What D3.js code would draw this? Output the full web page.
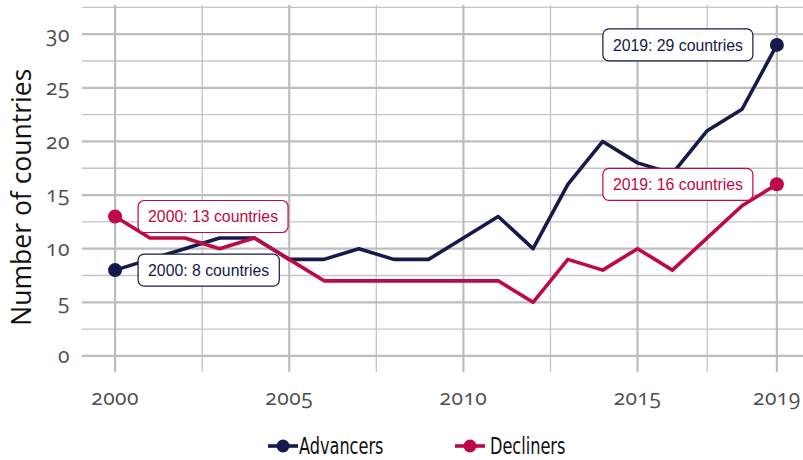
<!DOCTYPE html>
<html>
<head>
<meta charset="utf-8">
<script src="https://cdn.jsdelivr.net/npm/d3@7"></script>
<style>
  body { margin: 0; background: #fff; }
  svg { display: block; }
  .tick-lbl { font-family: "Open Sans", "Lato", sans-serif; font-size: 21px; fill: #4d4d4d; font-variant-numeric: oldstyle-nums; letter-spacing: 0.5px; }
  .ytitle { font-family: "Open Sans", "Lato", sans-serif; font-size: 26.5px; fill: #111; }
  .lbl { font-family: "Liberation Sans", Arial, sans-serif; font-size: 15.8px; }
  .legend { font-family: "DejaVu Sans Condensed", "Liberation Sans Narrow", sans-serif; font-size: 23px; fill: #111; }
</style>
</head>
<body>
<svg id="chart" width="803" height="460"></svg>
<script>
// data
var years = [2000, 2001, 2002, 2003, 2004, 2005, 2006, 2007, 2008, 2009,
             2010, 2011, 2012, 2013, 2014, 2015, 2016, 2017, 2018, 2019];
var advancers = [8, 9, 10, 11, 11, 9, 9, 10, 9, 9, 11, 13, 10, 16, 20, 18, 17, 21, 23, 29];
var decliners = [13, 11, 11, 10, 11, 9, 7, 7, 7, 7, 7, 7, 5, 9, 8, 10, 8, 11, 14, 16];
var seriesNames = ["Advancers", "Decliners"];
var seriesColors = ["#151a4b", "#bd0a45"];
var xBreaks = [2000, 2005, 2010, 2015, 2019];
var xMinor = [2002.5, 2007.5, 2012.5, 2017];
var yBreaks = [0, 5, 10, 15, 20, 25, 30];
var yMinor = [2.5, 7.5, 12.5, 17.5, 22.5, 27.5, 32.5];

var svg = d3.select("#chart");
var panel = {left: 82, right: 803, top: 5, bottom: 372};

var x = d3.scaleLinear().domain([1999.05, 2019.75]).range([panel.left, panel.right]);
var y = d3.scaleLinear().domain([-1.5, 32.72]).range([panel.bottom, panel.top]);

var grid = svg.append("g");
grid.selectAll(".hmin").data(yMinor).enter().append("line")
    .attr("x1", panel.left).attr("x2", panel.right)
    .attr("y1", d => y(d)).attr("y2", d => y(d))
    .attr("stroke", "#c4c4c4").attr("stroke-width", 1.3);
grid.selectAll(".vmin").data(xMinor).enter().append("line")
    .attr("x1", d => x(d)).attr("x2", d => x(d))
    .attr("y1", panel.top).attr("y2", panel.bottom)
    .attr("stroke", "#c4c4c4").attr("stroke-width", 1.3);
grid.selectAll(".hmaj").data(yBreaks).enter().append("line")
    .attr("x1", panel.left).attr("x2", panel.right)
    .attr("y1", d => y(d)).attr("y2", d => y(d))
    .attr("stroke", "#bdbdbd").attr("stroke-width", 2.2);
grid.selectAll(".vmaj").data(xBreaks).enter().append("line")
    .attr("x1", d => x(d)).attr("x2", d => x(d))
    .attr("y1", panel.top).attr("y2", panel.bottom)
    .attr("stroke", "#bdbdbd").attr("stroke-width", 2.2);

// axis labels
svg.selectAll(".ylbl").data(yBreaks).enter().append("text")
    .attr("class", "tick-lbl")
    .attr("x", 70).attr("y", d => y(d)).attr("dy", "0.35em")
    .attr("text-anchor", "end")
    .text(d => d);
svg.selectAll(".xlbl").data(xBreaks).enter().append("text")
    .attr("class", "tick-lbl")
    .attr("x", d => x(d)).attr("y", 405)
    .attr("text-anchor", "middle")
    .text(d => d);
svg.append("text").attr("class", "ytitle")
    .attr("transform", "translate(31," + y(14.8) + ") rotate(-90)")
    .attr("text-anchor", "middle")
    .text("Number of countries");

var series = [advancers, decliners].map(function(vals, i) {
  return {name: seriesNames[i], color: seriesColors[i],
          values: vals.map(function(v, j) { return {year: years[j], value: v}; })};
});

var line = d3.line().x(d => x(d.year)).y(d => y(d.value));

series.forEach(function(s) {
  svg.append("path").datum(s.values)
    .attr("d", line).attr("fill", "none")
    .attr("stroke", s.color).attr("stroke-width", 3.6)
    .attr("stroke-linejoin", "round");
  var ends = [s.values[0], s.values[s.values.length - 1]];
  svg.selectAll(null).data(ends).enter().append("circle")
    .attr("cx", d => x(d.year)).attr("cy", d => y(d.value))
    .attr("r", 7).attr("fill", s.color);
});

// end labels
function addLabel(s, d, side) {
  var g = svg.append("g");
  var t = g.append("text").attr("class", "lbl")
    .attr("fill", s.color)
    .attr("y", y(d.value)).attr("dy", "0.36em")
    .text(d.year + ": " + d.value + " countries");
  var w = t.node().getComputedTextLength();
  var padX = 10, h = 32;
  var bx = side === "right" ? x(d.year) + 23 : x(d.year) - 24 - (w + 2 * padX);
  t.attr("x", bx + padX);
  g.insert("rect", "text")
    .attr("x", bx).attr("y", y(d.value) - h / 2)
    .attr("width", w + 2 * padX).attr("height", h)
    .attr("rx", 6).attr("ry", 6)
    .attr("fill", "#fff").attr("stroke", s.color).attr("stroke-width", 1.2);
}
series.forEach(function(s) {
  addLabel(s, s.values[0], "right");
  addLabel(s, s.values[s.values.length - 1], "left");
});

// legend (condensed type, squeezed horizontally)
var legendX = [268, 455];
series.forEach(function(s, i) {
  var g = svg.append("g").attr("transform", "translate(" + legendX[i] + ",446)");
  g.append("line").attr("x1", 0).attr("x2", 30).attr("y1", 0).attr("y2", 0)
    .attr("stroke", s.color).attr("stroke-width", 3.6);
  g.append("circle").attr("cx", 15).attr("cy", 0).attr("r", 6.5).attr("fill", s.color);
  g.append("text").attr("class", "legend")
    .attr("transform", "translate(" + (i === 0 ? 31 : 35) + ",0) scale(0.78,1)")
    .attr("dy", "0.36em").text(s.name);
});
</script>
</body>
</html>
